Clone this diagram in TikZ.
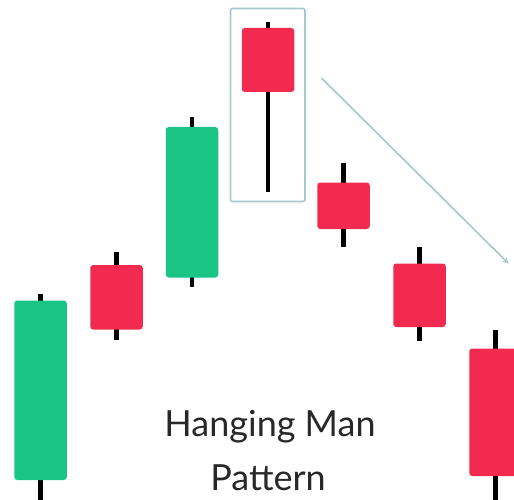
\documentclass[tikz,border=0pt]{standalone}
\usepackage{fontspec}
\setmainfont{Lato}
\usetikzlibrary{arrows}
\definecolor{upgreen}{RGB}{26,196,132}
\definecolor{downred}{RGB}{243,42,80}
\definecolor{framecol}{RGB}{165,200,206}
\definecolor{inkgrey}{RGB}{40,40,40}

\begin{document}
\begin{tikzpicture}[x=1pt,y=-1pt, >=stealth,
	body/.style={draw=none, rounded corners=3pt, minimum width=52.5pt, inner sep=0pt},
	bull/.style={body, fill=upgreen},
	bear/.style={body, fill=downred},
	wick/.style={line width=4.5pt, black},
	frame/.style={draw=framecol, line width=1.6pt, rounded corners=2pt, inner sep=0pt},
	label/.style={text=inkgrey, font=\fontsize{36}{40}\selectfont, anchor=base}]

\useasboundingbox (0,0) rectangle (514,500);
\clip (0,0) rectangle (514,500);

% wicks
\coordinate (A hi) at (40.5,294);   \coordinate (A lo) at (40.5,500);
\coordinate (B hi) at (116.5,252);  \coordinate (B lo) at (116.5,340);
\coordinate (C hi) at (192,117.5);  \coordinate (C lo) at (192,287);
\coordinate (D hi) at (268,22);     \coordinate (D lo) at (268,192);
\coordinate (E hi) at (343.5,163);  \coordinate (E lo) at (343.5,247);
\coordinate (F hi) at (419.5,247);  \coordinate (F lo) at (419.5,341);
\coordinate (G hi) at (495.5,330);  \coordinate (G lo) at (495.5,500);
\foreach \c in {A,B,C,D,E,F,G}
	\draw[wick] (\c\space hi) -- (\c\space lo);

% bodies
\node[bull, minimum height=179.5pt] (A) at (40.5,390.25) {};
\node[bear, minimum height=64.5pt] (B) at (116.5,297.25) {};
\node[bull, minimum height=150.5pt] (C) at (192,202.25) {};
\node[bear, minimum height=64pt] (D) at (268,60) {};
\node[bear, minimum height=46.5pt] (E) at (343.5,205.75) {};
\node[bear, minimum height=63.5pt] (F) at (419.5,295.25) {};
\node[bear, minimum height=127.5pt] (G) at (495.5,412.25) {};

% hanging man
\node[frame, minimum width=74.5pt, minimum height=193pt] (hm) at (267.75,105) {};
\coordinate (trend) at (321.5,78);
\coordinate (trend end) at (508.5,263.5);
\draw[->, draw=framecol, line width=1.6pt] (trend) -- (trend end);

\node[label] (title) at (270,436.5) {Hanging Man};
\node[label] (sub) at (268,490) {Pattern};
\end{tikzpicture}
\end{document}
